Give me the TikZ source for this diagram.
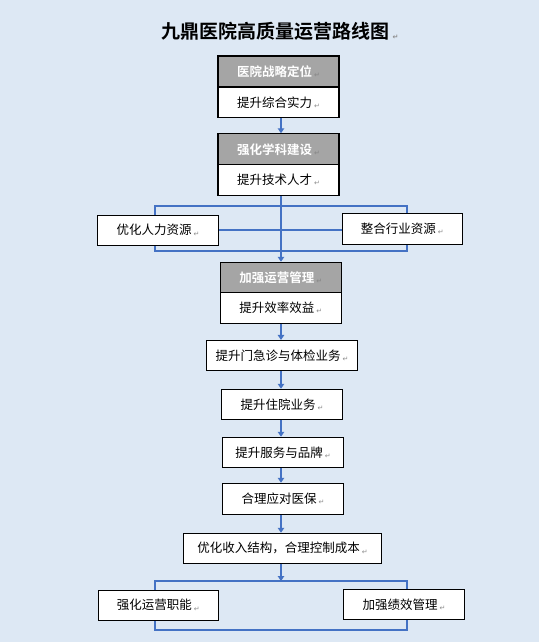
\documentclass[tikz,border=0pt]{standalone}
\usepackage{fontspec}
\newfontfamily\cjk{Noto Sans CJK SC}[BoldFont={Noto Sans CJK SC Bold}]
\newfontfamily\symf{DejaVu Sans}
\usetikzlibrary{arrows.meta}
\definecolor{bg}{HTML}{DDE8F4}
\definecolor{hdr}{HTML}{A5A5A5}
\definecolor{ln}{HTML}{4472C4}
\definecolor{pm}{HTML}{8C8C8C}
\newcommand{\pmark}{\,{\symf\fontsize{7}{7}\selectfont\color{pm}\raisebox{-0.3ex}{↵}}}
\begin{document}
\begin{tikzpicture}[x=1pt,y=-1pt,
  every node/.style={inner sep=0pt, font=\cjk\fontsize{12.5}{14}\selectfont},
  hbox/.style={draw=black, line width=1.1pt, fill=hdr, text=white, minimum width=121pt, minimum height=31pt, font=\cjk\bfseries\fontsize{12.5}{14}\selectfont},
  bbox/.style={draw=black, line width=1.1pt, fill=white, minimum height=30pt},
  conn/.style={draw=ln, line width=2pt},
  arr/.style={conn, -{Triangle[width=6.5pt,length=5pt]}}
]
\fill[bg] (0,0) rectangle (539,642);
\useasboundingbox (0,0) rectangle (539,642);

\node (title) at (280,31) {\cjk\bfseries\fontsize{19}{21}\selectfont 九鼎医院高质量运营路线图\pmark};

% brackets (behind boxes)
\coordinate (ta) at (155,206); \coordinate (tb) at (407,251);
\draw[conn] (ta) rectangle (tb);
\coordinate (ua) at (155,581); \coordinate (ub) at (407,630);
\draw[conn] (ua) rectangle (ub);

% column
\node[hbox] (h1) at (278.5,71.5) {医院战略定位\pmark};
\node[bbox, minimum width=121pt] (b1) at (278.5,102.3) {提升综合实力\pmark};
\node[hbox] (h2) at (278.5,149.3) {强化学科建设\pmark};
\node[bbox, minimum width=121pt, minimum height=31pt] (b2) at (278.5,180) {提升技术人才\pmark};

\node[bbox, minimum width=121pt] (l1) at (158,230.3) {优化人力资源\pmark};
\node[bbox, minimum width=120pt, minimum height=31pt] (r1) at (402.3,228.8) {整合行业资源\pmark};

\node[hbox, minimum height=30pt] (h3) at (280.8,277.3) {加强运营管理\pmark};
\node[bbox, minimum width=121pt, minimum height=31pt] (b3) at (280.8,307.8) {提升效率效益\pmark};

\node[bbox, minimum width=151pt] (n4) at (282,355.5) {提升门急诊与体检业务\pmark};
\node[bbox, minimum width=121pt] (n5) at (282,404.3) {提升住院业务\pmark};
\node[bbox, minimum width=121pt] (n6) at (283,452.3) {提升服务与品牌\pmark};
\node[bbox, minimum width=121pt, minimum height=31pt] (n7) at (283,498.8) {合理应对医保\pmark};
\node[bbox, minimum width=198pt] (n8) at (282.5,548.3) {优化收入结构，合理控制成本\pmark};

\node[bbox, minimum width=120pt] (l2) at (158.3,605.2) {强化运营职能\pmark};
\node[bbox, minimum width=121pt] (r2) at (404,604.3) {加强绩效管理\pmark};

% connectors
\draw[arr] (b1.south -| 281,0) -- (h2.north -| 281,0);
\draw[conn] (l1.east) -- (r1.west |- l1.east);
\draw[arr] (b2.south -| 281,0) -- (h3.north -| 281,0);
\draw[arr] (b3.south -| 281,0) -- (n4.north -| 281,0);
\draw[arr] (n4.south -| 281,0) -- (n5.north -| 281,0);
\draw[arr] (n5.south -| 281,0) -- (n6.north -| 281,0);
\draw[arr] (n6.south -| 281,0) -- (n7.north -| 281,0);
\draw[arr] (n7.south -| 281,0) -- (n8.north -| 281,0);
\draw[arr] (n8.south -| 281,0) -- (ua -| 281,0);
\end{tikzpicture}
\end{document}
